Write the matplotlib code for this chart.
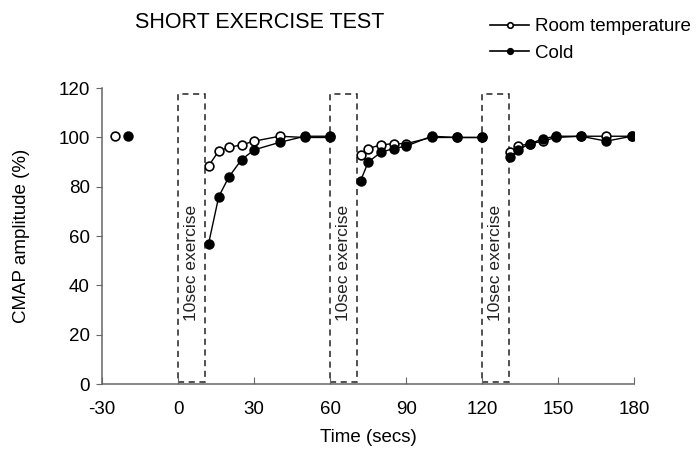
import matplotlib.pyplot as plt
from matplotlib.patches import Rectangle

plt.rcParams['font.family'] = ['Liberation Sans', 'DejaVu Sans']
plt.rcParams['axes.unicode_minus'] = False

# baseline (pre-exercise) points
base_time_room = [-25]
base_room = [100.5]
base_time_cold = [-20]
base_cold = [100.5]

# recovery after each 10 s exercise bout
seg_times = [
    [12, 16, 20, 25, 30, 40, 50, 60],
    [72, 75, 80, 85, 90, 100, 110, 120],
    [131, 134, 139, 144, 149, 159, 169, 179],
]
room = [
    [88.5, 94.5, 96, 97, 98.5, 100.5, 100, 100],
    [93, 95.5, 97, 97.5, 97.5, 100, 100, 100],
    [94, 96.5, 97.5, 98.5, 100, 100.5, 100.5, 100.5],
]
cold = [
    [57, 76, 84, 91, 95, 98, 100.5, 100.5],
    [82.5, 90, 94, 95.5, 96.5, 100.5, 100, 100],
    [92, 95, 97.5, 99.5, 100.5, 100.5, 98.5, 100.5],
]
exercise_starts = [0, 60, 120]

fig = plt.figure(figsize=(7, 4.59), dpi=100)
ax = fig.add_axes([0.146, 0.163, 0.760, 0.645])

# exercise boxes
for s in exercise_starts:
    ax.add_patch(Rectangle((s, 0.8), 10.5, 117, fill=False, edgecolor='#222222',
                           linestyle=(0, (4, 3)), linewidth=1.1, zorder=1))
    ax.text(s + 5.4, 49, '10sec exercise', rotation=90, ha='center', va='center',
            fontsize=12.5, color='#222222')

mk = dict(marker='o', markersize=6.3, markeredgewidth=1.2, color='black')

ax.plot(base_time_room, base_room, linestyle='none', markerfacecolor='white', **mk)
ax.plot(base_time_cold, base_cold, linestyle='none', markerfacecolor='black', **mk)

for t, r, c in zip(seg_times, room, cold):
    ax.plot(t, r, markerfacecolor='white', linewidth=1, zorder=3, **mk)
    ax.plot(t, c, markerfacecolor='black', linewidth=1, zorder=4, **mk)

ax.set_xlim(-30, 180)
ax.set_ylim(0, 120)
ax.set_xticks(range(-30, 181, 30))
ax.set_yticks(range(0, 121, 20))
ax.spines['top'].set_visible(False)
ax.spines['right'].set_visible(False)
for sp in ['left', 'bottom']:
    ax.spines[sp].set_color('#666666')
    ax.spines[sp].set_linewidth(1.1)
ax.tick_params(axis='y', direction='out', length=4, color='#666666', labelsize=13.5, pad=5)
ax.tick_params(axis='x', direction='in', length=5, color='#666666', labelsize=13.5, pad=12)

ax.set_xlabel('Time (secs)', fontsize=13.5)
ax.set_ylabel('CMAP amplitude (%)', fontsize=13.5)
ax.xaxis.set_label_coords(0.5, -0.15)
ax.yaxis.set_label_coords(-0.135, 0.5)

fig.text(0.371, 0.951, 'SHORT EXERCISE TEST', ha='center', va='center', fontsize=15.5)

h1, = ax.plot([], [], markerfacecolor='white', linewidth=1.2, **{**mk, 'markersize': 4})
h2, = ax.plot([], [], markerfacecolor='black', linewidth=1.2, **{**mk, 'markersize': 4})
fig.legend([h1, h2], ['Room temperature', 'Cold'], loc='upper left',
           bbox_to_anchor=(0.70, 0.96), frameon=False, fontsize=13.5,
           borderpad=0, borderaxespad=0,
           handlelength=2.1, handletextpad=0.3, labelspacing=0.49)

fig.savefig('out.png', dpi=100)
